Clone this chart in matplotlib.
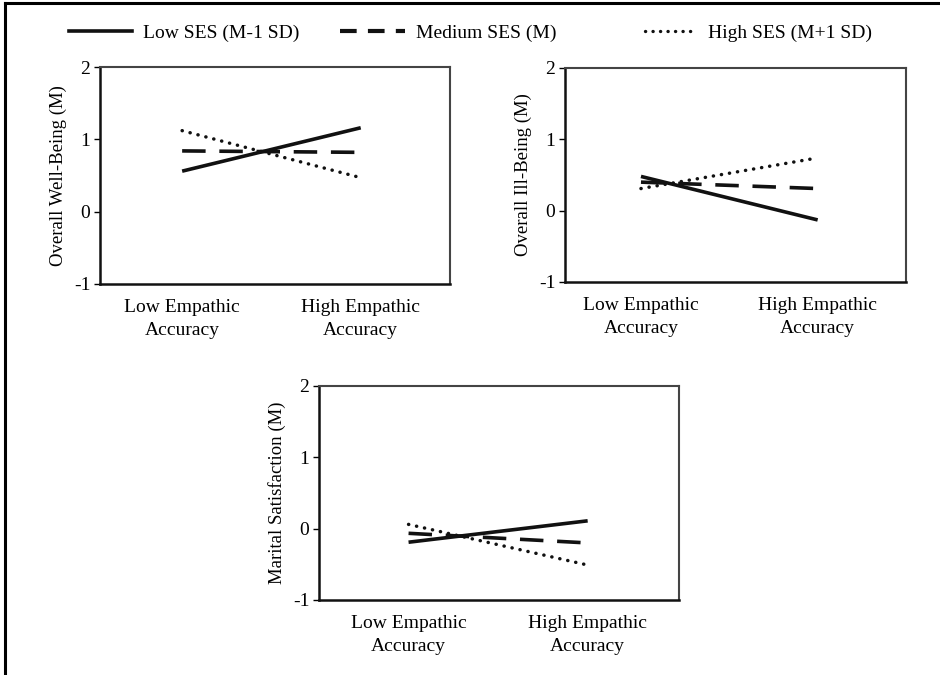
import matplotlib
matplotlib.use("Agg")
import matplotlib.pyplot as plt
from matplotlib.lines import Line2D

plt.rcParams['font.family'] = ['Liberation Serif', 'DejaVu Serif']

categories = ["Low Empathic\nAccuracy", "High Empathic\nAccuracy"]
series_names = ["Low SES (M-1 SD)", "Medium SES (M)", "High SES (M+1 SD)"]
y_ticks = [-1, 0, 1, 2]

wellbeing_low = [0.56, 1.16]
wellbeing_med = [0.84, 0.82]
wellbeing_high = [1.12, 0.47]

illbeing_low = [0.48, -0.13]
illbeing_med = [0.40, 0.31]
illbeing_high = [0.31, 0.74]

marital_low = [-0.19, 0.11]
marital_med = [-0.065, -0.20]
marital_high = [0.06, -0.51]

panel_titles = ["Overall Well-Being (M)", "Overall Ill-Being (M)", "Marital Satisfaction (M)"]

W, H = 940, 675
fig = plt.figure(figsize=(W / 100, H / 100), dpi=100)

def rect(l, t, r, b):
    return [l / W, (H - b) / H, (r - l) / W, (b - t) / H]

styles = [
    dict(color='#111111', lw=2.6, linestyle='-', solid_capstyle='butt'),
    dict(color='#111111', lw=2.6, linestyle=(0, (6.5, 3.8)), dash_capstyle='butt'),
    dict(color='#111111', lw=2.5, linestyle=(0, (0.05, 2.3)), dash_capstyle='round'),
]

panels = [
    (rect(100, 67, 450, 284), panel_titles[0], [wellbeing_low, wellbeing_med, wellbeing_high], (-0.46, 1.50)),
    (rect(565, 68, 906, 282), panel_titles[1], [illbeing_low, illbeing_med, illbeing_high], (-0.43, 1.50)),
    (rect(319, 386, 679, 600), panel_titles[2], [marital_low, marital_med, marital_high], (-0.50, 1.51)),
]

for pos, title, data, xl in panels:
    ax = fig.add_axes(pos)
    x = list(range(len(categories)))
    for vals, st, name in zip(data, styles, series_names):
        ax.plot(x, vals, label=name, **st)
    ax.set_xlim(*xl)
    ax.set_ylim(-1, 2)
    ax.set_yticks(y_ticks)
    ax.set_yticklabels([str(v) for v in y_ticks], fontsize=14)
    ax.set_xticks(x)
    ax.set_xticklabels(categories, fontsize=14, linespacing=1.42)
    ax.tick_params(axis='x', length=0, pad=11)
    ax.tick_params(axis='y', length=4, width=1, direction='out', pad=3)
    ax.set_ylabel(title, fontsize=13.5, labelpad=5)
    for s in ['left', 'bottom']:
        ax.spines[s].set_color('#111111')
        ax.spines[s].set_linewidth(1.8)
    for s in ['top', 'right']:
        ax.spines[s].set_color('#444444')
        ax.spines[s].set_linewidth(1.5)

# legend entries placed individually
leg_fs = 14
em = leg_fs * 100 / 72.0
leg_x = [69, 340, 645]
hl = [63 / em, 65 / em, 52 / em]
leg_styles = [
    dict(color='#111111', lw=2.6, linestyle='-'),
    dict(color='#111111', lw=3.0, linestyle=(0, (4.0, 2.7))),
    dict(color='#111111', lw=2.4, linestyle=(0, (0.05, 2.2)), dash_capstyle='round'),
]
for xpos, name, l, ls in zip(leg_x, series_names, hl, leg_styles):
    proxy = Line2D([], [], **ls)
    fig.legend([proxy], [name], loc='center left',
               bbox_to_anchor=(xpos / W, (H - 33) / H), frameon=False,
               fontsize=leg_fs, handlelength=l, handletextpad=0.55,
               borderpad=0, borderaxespad=0)

# outer frame (top and left edges)
fig.add_artist(Line2D([5 / W, 1.0], [(H - 3) / H, (H - 3) / H], color='black', lw=2.2, transform=fig.transFigure))
fig.add_artist(Line2D([5 / W, 5 / W], [0, (H - 3) / H], color='black', lw=2.2, transform=fig.transFigure))

fig.savefig("out.png", dpi=100)
